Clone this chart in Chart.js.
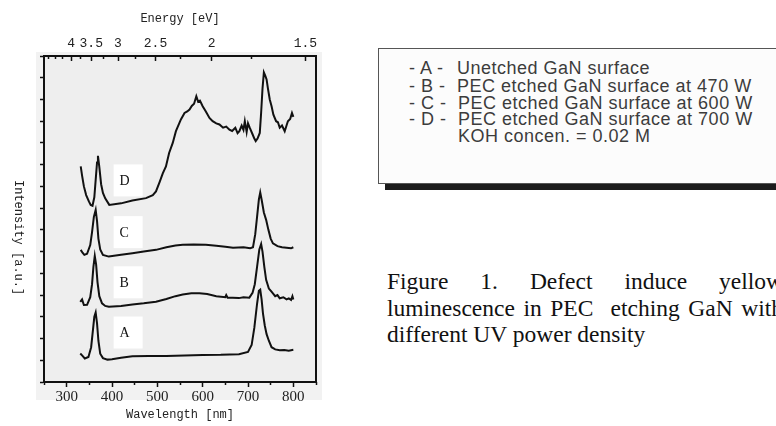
<!DOCTYPE html>
<html>
<head>
<meta charset="utf-8">
<script src="https://cdn.jsdelivr.net/npm/chart.js@4.4.0/dist/chart.umd.min.js"></script>
<style>
html,body{margin:0;padding:0;background:#fff;width:776px;height:426px;overflow:hidden;position:relative;}
#wrap{position:absolute;left:0;top:0;width:340px;height:426px;}
#ytitle{position:absolute;left:11px;top:180px;writing-mode:vertical-rl;font:12px "Liberation Mono",monospace;color:#222;line-height:14px;white-space:nowrap;}
#legend{position:absolute;left:378px;top:48px;width:430px;height:134px;border:1px solid #555;background:#fcfcfc;box-shadow:7px 6px 0 #1c1c1c;}
.row{position:absolute;font:18px "Liberation Sans",Arial,sans-serif;color:#3c3c3c;letter-spacing:0.5px;white-space:nowrap;line-height:17px;}
.cap{position:absolute;left:387px;width:396px;font:23.5px "Liberation Serif","Times New Roman",serif;color:#111;line-height:26.7px;white-space:nowrap;}
.just{text-align:justify;text-align-last:justify;white-space:normal;}
</style>
</head>
<body>
<div id="wrap"><canvas id="c"></canvas></div>
<div id="ytitle">Intensity [a.u.]</div>
<div id="legend">
  <div class="row" style="left:30px;top:11px">- A -</div><div class="row" style="left:78px;top:11px">Unetched GaN surface</div>
  <div class="row" style="left:30px;top:29px">- B -</div><div class="row" style="left:78px;top:29px">PEC etched GaN surface at 470 W</div>
  <div class="row" style="left:30px;top:46px">- C -</div><div class="row" style="left:79px;top:46px">PEC etched GaN surface at 600 W</div>
  <div class="row" style="left:30px;top:62px">- D -</div><div class="row" style="left:79px;top:62px">PEC etched GaN surface at 700 W</div>
  <div class="row" style="left:79px;top:79px">KOH concen. = 0.02 M</div>
</div>
<div class="cap just" style="top:268px">Figure 1. Defect induce yellow</div>
<div class="cap just" style="top:294.7px">luminescence in PEC &nbsp;etching GaN with</div>
<div class="cap" style="top:321.4px">different UV power density</div>
<script>
// ---- tick values ----
const wavelengthTicks = [300, 400, 500, 600, 700, 800];
const wavelengthMinorTicks = [250, 350, 450, 550, 650, 750, 850];
const energyTicks = [4, 3.5, 3, 2.5, 2, 1.5];
const energyMinorTicks = [4.75, 4.5, 4.25, 3.75, 3.25, 2.75, 2.25, 1.75];
const intensityTicks = [0,1,2,3,4,5,6,7,8,9,10,11,12,13,14,15];
const HC = 1239.84; // eV*nm

// ---- curve A: unetched ----
const wavelengthA = [330,335,340,348,354,358,361,364,367,370,374,380,390,400,420,445,480,520,560,600,640,680,700,708,714,720,724,727,730,733,737,741,746,752,760,770,780,790,800];
const intensityA  = [1.31,1.2,1.08,1.15,1.6,2.4,3.0,3.2,2.7,1.9,1.3,1.1,1.03,1.05,1.12,1.19,1.2,1.2,1.22,1.24,1.25,1.28,1.38,1.7,2.5,3.6,4.2,4.25,3.8,3.16,2.6,2.2,1.9,1.6,1.5,1.46,1.47,1.44,1.48];

// ---- curve B: 470 W ----
const wavelengthB = [330,334,338,345,352,356,359,362,365,368,372,378,385,393,420,445,470,497,520,540,556,575,593,610,630,650,652,655,666,680,690,703,710,715,720,725,729,732,736,740,746,750,755,760,765,770,778,785,790,795,798,800];
const intensityB  = [3.69,3.8,3.54,3.55,3.9,4.5,5.3,5.8,5.4,4.6,3.95,3.62,3.5,3.46,3.5,3.57,3.62,3.69,3.82,3.95,4.03,4.08,4.08,4.05,3.95,3.9,4.0,3.88,3.88,3.86,3.9,3.88,4.1,4.5,5.3,6.1,6.35,6.0,5.3,4.7,4.3,4.2,4.08,3.95,4.0,3.85,3.9,3.8,3.85,3.78,3.95,3.8];

// ---- curve C: 600 W ----
const wavelengthC = [331,335,339,345,352,356,360,364,367,370,374,380,393,420,445,470,497,520,540,556,580,607,630,650,667,690,705,711,716,720,724,727,730,735,740,745,750,755,765,775,785,795,800];
const intensityC  = [6.08,5.95,5.85,5.9,6.3,6.9,7.6,7.92,7.4,6.6,6.1,5.85,5.77,5.85,5.92,6.0,6.08,6.2,6.28,6.31,6.33,6.31,6.27,6.22,6.18,6.2,6.16,6.2,6.8,7.6,8.4,8.72,8.4,7.8,7.46,7.0,6.6,6.38,6.25,6.2,6.18,6.15,6.2];

// ---- curve D: 700 W ----
const wavelengthD = [331,334,338,343,349,353,357,361,364,367,369,372,376,380,385,394,420,445,475,490,497,505,512,519,526,534,541,552,560,566,571,576,581,586,590,594,600,607,615,622,630,637,645,652,659,665,672,677,681,686,690,693,697,700,704,710,714,717,721,726,729,732,735,738,741,744,748,752,756,762,766,770,775,781,785,788,793,797,800];
const intensityD  = [9.92,9.5,9.0,8.6,8.31,8.15,8.11,8.5,9.3,10.1,10.41,9.9,9.1,8.7,8.45,8.15,8.22,8.35,8.46,8.6,8.77,9.2,9.6,9.92,10.54,11.0,11.54,12.08,12.38,12.45,12.54,12.7,12.8,13.15,12.9,12.95,12.69,12.45,12.15,12.0,11.9,11.85,11.7,11.75,11.61,11.55,11.7,11.45,11.54,11.8,11.6,12.0,11.5,11.9,11.69,11.4,11.2,11.08,11.2,11.46,12.4,13.5,14.25,14.1,13.92,13.5,13.0,12.69,12.3,12.0,11.95,11.7,11.8,11.54,11.8,12.0,12.1,12.38,12.2];

// ---- curve annotations ----
const curveNames = ['A', 'B', 'C', 'D'];
const labelWavelengths = [419, 419, 419, 419];
const labelLevels = [2.23, 4.54, 6.85, 9.23];

const toPoints = (xs, ys) => xs.map((x, i) => ({x: x, y: ys[i]}));
const lineStyle = {borderColor: '#111', borderWidth: 2, pointRadius: 0, tension: 0, fill: false};

const AXIS = '#111';
const backgroundPlugin = {
  id: 'bg',
  beforeDraw(chart) {
    const {ctx, chartArea: a} = chart;
    ctx.save();
    ctx.fillStyle = '#f2f2f2';
    ctx.fillRect(a.left - 8, a.top - 4, a.right - a.left + 14, a.bottom - a.top + 22);
    ctx.fillStyle = '#eeeeee';
    ctx.fillRect(a.left, a.top, a.right - a.left, a.bottom - a.top);
    ctx.restore();
  }
};
const labelPlugin = {
  id: 'curveLabels',
  beforeDatasetsDraw(chart) {
    const {ctx, scales} = chart;
    ctx.save();
    curveNames.forEach((name, i) => {
      const px = scales.x.getPixelForValue(labelWavelengths[i]);
      const py = scales.y.getPixelForValue(labelLevels[i]);
      ctx.fillStyle = '#ffffff';
      ctx.fillRect(px - 7, py - 17, 29, 32);
      ctx.fillStyle = '#111';
      ctx.font = '14px "Liberation Serif", serif';
      ctx.textBaseline = 'middle';
      ctx.textAlign = 'left';
      ctx.fillText(name, px - 1, py);
    });
    ctx.restore();
  }
};

const hidden = {display: false};
new Chart(document.getElementById('c'), {
  type: 'line',
  data: {
    datasets: [
      Object.assign({label: 'A', data: toPoints(wavelengthA, intensityA)}, lineStyle),
      Object.assign({label: 'B', data: toPoints(wavelengthB, intensityB)}, lineStyle),
      Object.assign({label: 'C', data: toPoints(wavelengthC, intensityC)}, lineStyle),
      Object.assign({label: 'D', data: toPoints(wavelengthD, intensityD)}, lineStyle)
    ]
  },
  options: {
    responsive: true,
    maintainAspectRatio: false,
    animation: false,
    devicePixelRatio: 1,
    layout: {padding: {left: 0, right: 24, top: 0, bottom: 0}},
    plugins: {legend: hidden, tooltip: {enabled: false}, title: hidden},
    scales: {
      x: {
        type: 'linear', position: 'bottom', min: 250, max: 850, weight: 1,
        afterBuildTicks: s => { s.ticks = wavelengthTicks.map(v => ({value: v})); },
        afterFit: s => { s.height = 44; },
        grid: {drawOnChartArea: false, drawTicks: true, tickLength: 5, tickWidth: 1.5, tickColor: AXIS},
        border: {display: true, color: AXIS, width: 2},
        ticks: {autoSkip: false, maxRotation: 0, padding: 1, color: '#222', font: {family: '"Liberation Serif"', size: 15}},
        title: {display: true, text: 'Wavelength [nm]', color: '#222', font: {family: '"Liberation Mono"', size: 12}, padding: {top: 0, bottom: 4}}
      },
      xMinor: {
        type: 'linear', position: 'bottom', min: 250, max: 850, weight: 0,
        afterBuildTicks: s => { s.ticks = wavelengthMinorTicks.map(v => ({value: v})); },
        afterFit: s => { s.height = 0; },
        grid: {drawOnChartArea: false, drawTicks: true, tickLength: 3, tickWidth: 1.5, tickColor: AXIS},
        border: {display: false},
        ticks: {display: false}
      },
      xTop: {
        type: 'linear', position: 'top', min: 250, max: 850, weight: 1,
        afterBuildTicks: s => { s.ticks = energyTicks.map(e => ({value: HC / e})); },
        afterFit: s => { s.height = 56; },
        grid: {drawOnChartArea: false, drawTicks: true, tickLength: -5, tickWidth: 1.5, tickColor: AXIS},
        border: {display: true, color: AXIS, width: 2},
        ticks: {autoSkip: false, maxRotation: 0, padding: 10, color: '#222', font: {family: '"Liberation Mono"', size: 13},
                callback: (v, i) => String(energyTicks[i])},
        title: {display: true, text: 'Energy [eV]', color: '#222', font: {family: '"Liberation Mono"', size: 12}, padding: {top: 12, bottom: 0}}
      },
      xTopMinor: {
        type: 'linear', position: 'top', min: 250, max: 850, weight: 0,
        afterBuildTicks: s => { s.ticks = energyMinorTicks.map(e => ({value: HC / e})); },
        afterFit: s => { s.height = 0; },
        grid: {drawOnChartArea: false, drawTicks: true, tickLength: -3, tickWidth: 1.5, tickColor: AXIS},
        border: {display: false},
        ticks: {display: false}
      },
      y: {
        type: 'linear', position: 'left', min: 0, max: 15,
        afterBuildTicks: s => { s.ticks = intensityTicks.map(v => ({value: v})); },
        afterFit: s => { s.width = 44; },
        grid: {drawOnChartArea: false, drawTicks: true, tickLength: 4, tickWidth: 1.5, tickColor: AXIS},
        border: {display: true, color: AXIS, width: 2},
        ticks: {display: false}
      },
      yRight: {
        type: 'linear', position: 'right', min: 0, max: 15, display: true,
        afterFit: s => { s.width = 0; },
        grid: {drawOnChartArea: false, drawTicks: false},
        border: {display: true, color: AXIS, width: 2},
        ticks: {display: false}
      }
    }
  },
  plugins: [backgroundPlugin, labelPlugin]
});
</script>
</body>
</html>
